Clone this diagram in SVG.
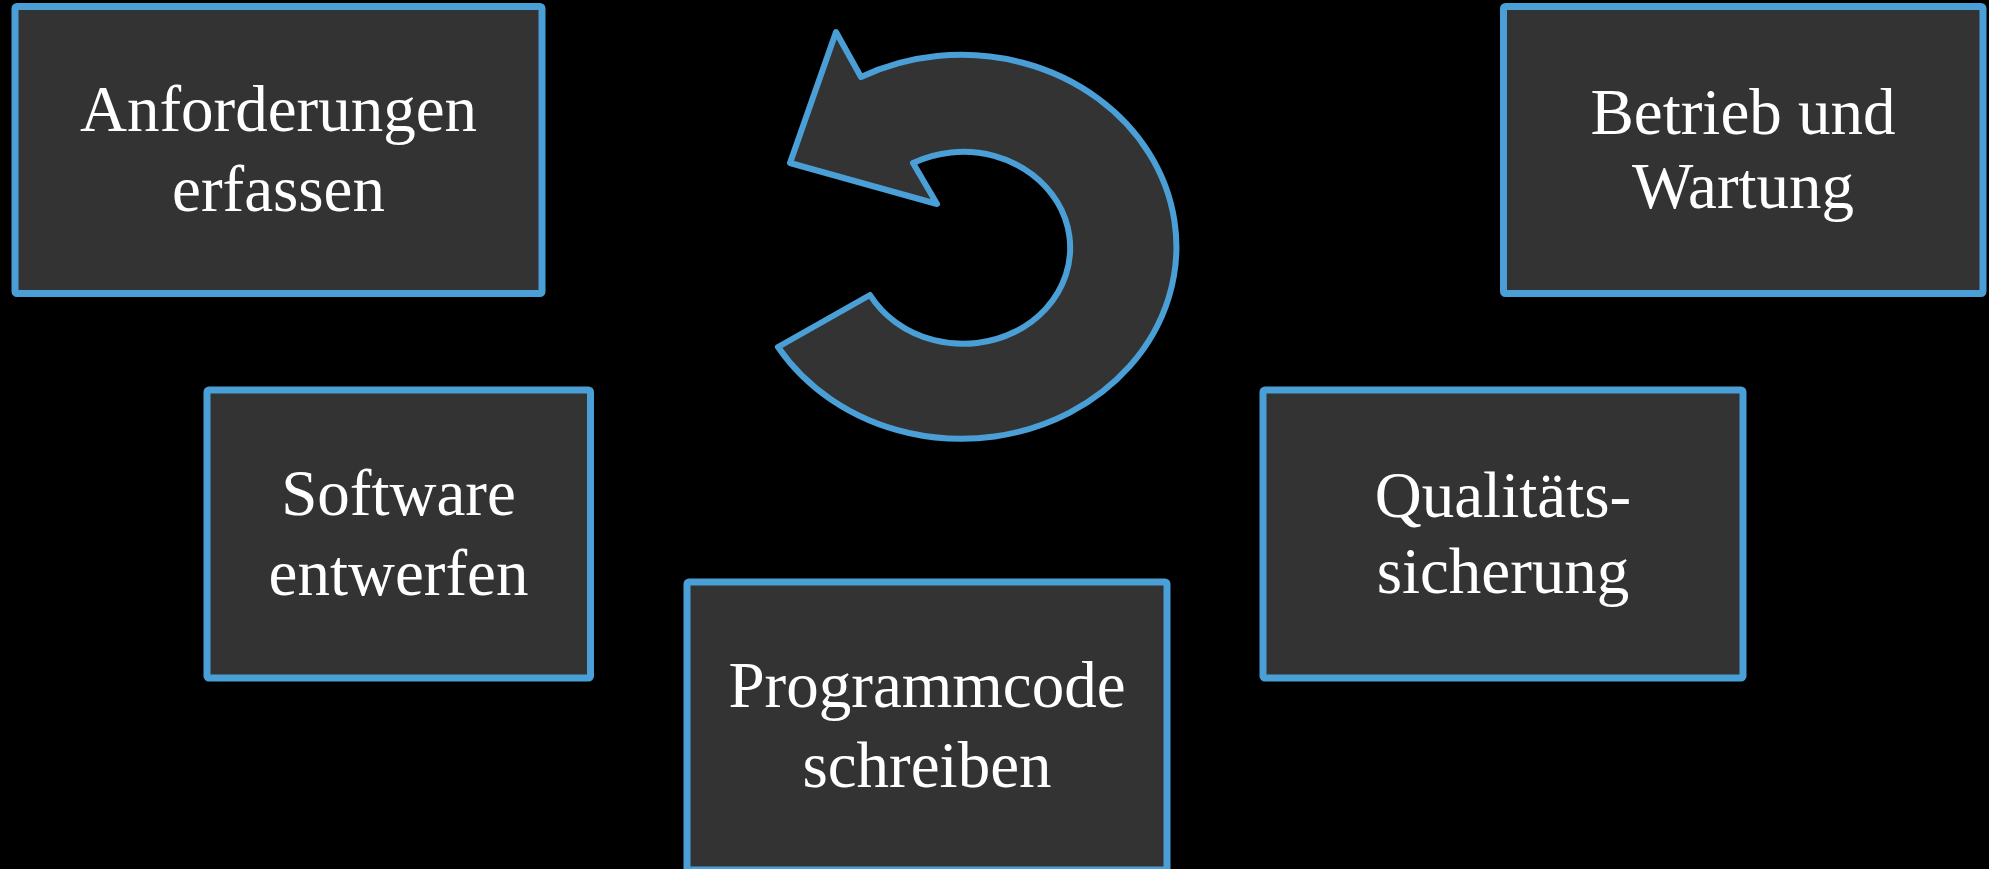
<svg xmlns="http://www.w3.org/2000/svg" width="1989" height="869" viewBox="0 0 1989 869">
<style>
.box{fill:#333333;stroke:#4A9FD6;stroke-width:7;stroke-linejoin:round}
.lbl{fill:#ffffff;font-family:"Liberation Serif","DejaVu Serif",serif;font-size:65px;text-anchor:middle}
.arr{fill:#333333;stroke:#4A9FD6;stroke-width:6;stroke-linejoin:round}
</style>
<rect width="1989" height="869" fill="#000000"/>
<g id="connectors">
<path class="arr" d="M836,32 L861,77 A215,192 0 1 1 778,347 L870,295 A107,96 0 1 0 913,163 L937,204 L790,163 Z"/>
</g>
<g id="n1">
<rect class="box" x="15" y="6.5" width="527" height="287" rx="2"/>
<text class="lbl" x="278.5" y="131">Anforderungen</text>
<text class="lbl" x="278.5" y="211">erfassen</text>
</g>
<g id="n2">
<rect class="box" x="1503.5" y="6.5" width="479.5" height="287" rx="2"/>
<text class="lbl" x="1743" y="134">Betrieb und</text>
<text class="lbl" x="1743" y="208">Wartung</text>
</g>
<g id="n3">
<rect class="box" x="207" y="390" width="383.5" height="288" rx="2"/>
<text class="lbl" x="398.5" y="515">Software</text>
<text class="lbl" x="398.5" y="595">entwerfen</text>
</g>
<g id="n4">
<rect class="box" x="1263" y="390" width="480" height="288" rx="2"/>
<text class="lbl" x="1503" y="517">Qualitäts-</text>
<text class="lbl" x="1503" y="593">sicherung</text>
</g>
<g id="n5">
<rect class="box" x="687" y="582" width="480" height="288" rx="2"/>
<text class="lbl" x="927" y="707">Programmcode</text>
<text class="lbl" x="927" y="787">schreiben</text>
</g>
</svg>
